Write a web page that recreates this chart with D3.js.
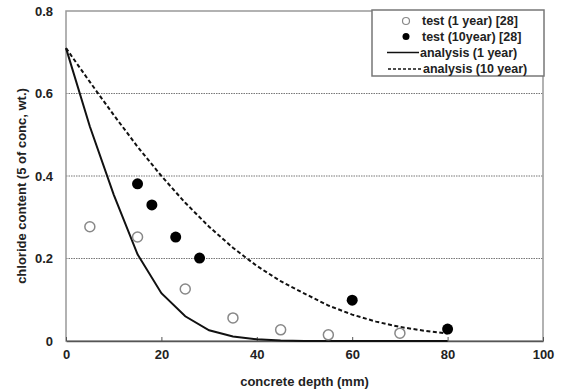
<!DOCTYPE html>
<html>
<head>
<meta charset="utf-8">
<script src="https://cdn.jsdelivr.net/npm/d3@7"></script>
<style>
  body { margin: 0; background: #fff; }
  text { font-family: "Liberation Sans", Arial, sans-serif; font-weight: bold; fill: #222; }
</style>
</head>
<body>
<svg id="chart"></svg>
<script>
// measured points (depth in mm, chloride %)
const test1Depth = [5, 15, 25, 35, 45, 55, 70];
const test1Value = [0.277, 0.252, 0.126, 0.056, 0.027, 0.015, 0.019];
const test10Depth = [15, 18, 23, 28, 60, 80];
const test10Value = [0.381, 0.330, 0.252, 0.201, 0.099, 0.029];

// analysis curves, read every 5 mm
const anaDepth = [0, 5, 10, 15, 20, 25, 30, 35, 40, 45, 50, 55, 60, 65, 70, 75, 80];
const ana1Value = [0.71, 0.52, 0.355, 0.21, 0.116, 0.06, 0.026, 0.011, 0.004, 0.001, 0, 0, 0, 0, 0, 0, 0];
const ana10Value = [0.71, 0.628, 0.548, 0.471, 0.4, 0.335, 0.277, 0.226, 0.182, 0.145, 0.115, 0.086, 0.064, 0.047, 0.034, 0.025, 0.018];

const xTicks = [0, 20, 40, 60, 80, 100];
const yTicks = [0, 0.2, 0.4, 0.6, 0.8];
const yGrid = [0.2, 0.4, 0.6];

const legendLabels = ['test (1 year) [28]', 'test (10year) [28]', 'analysis (1 year)', 'analysis (10 year)'];

const config = {
  containerWidth: 564,
  containerHeight: 392,
  margin: { top: 11, right: 21, bottom: 51, left: 66 }
};

const width = config.containerWidth - config.margin.left - config.margin.right;
const height = config.containerHeight - config.margin.top - config.margin.bottom;

const svg = d3.select('#chart')
    .attr('width', config.containerWidth)
    .attr('height', config.containerHeight);

const chart = svg.append('g')
    .attr('transform', `translate(${config.margin.left},${config.margin.top})`);

const xScale = d3.scaleLinear().domain([0, 100]).range([0, width]);
const yScale = d3.scaleLinear().domain([0, 0.8]).range([height, 0]);

// dotted grid lines
chart.selectAll('.grid')
  .data(yGrid)
  .join('line')
    .attr('class', 'grid')
    .attr('x1', 0)
    .attr('x2', width)
    .attr('y1', d => yScale(d))
    .attr('y2', d => yScale(d))
    .attr('stroke', '#777')
    .attr('stroke-width', 1)
    .attr('stroke-dasharray', '1.5,1');

// frame
chart.append('rect')
    .attr('width', width)
    .attr('height', height)
    .attr('fill', 'none')
    .attr('stroke', '#999')
    .attr('stroke-width', 1.5);

// x axis with small inward ticks
const xAxis = d3.axisBottom(xScale)
    .tickValues(xTicks)
    .tickSizeInner(-4)
    .tickSizeOuter(0)
    .tickPadding(9);

const xAxisG = chart.append('g')
    .attr('transform', `translate(0,${height})`)
    .call(xAxis);
xAxisG.select('.domain').attr('stroke', '#555').attr('stroke-width', 1.5);
xAxisG.selectAll('.tick line').attr('stroke', '#555');
xAxisG.selectAll('.tick text')
    .style('font-size', '13px')
    .attr('fill', '#222');

const yAxis = d3.axisLeft(yScale)
    .tickValues(yTicks)
    .tickFormat(d => d === 0 ? '0' : d3.format('.1f')(d))
    .tickSize(0)
    .tickPadding(13);

const yAxisG = chart.append('g').call(yAxis);
yAxisG.select('.domain').remove();
yAxisG.selectAll('.tick text')
    .style('font-size', '13px')
    .attr('fill', '#222');

// axis titles
chart.append('text')
    .attr('x', width / 2)
    .attr('y', height + 45)
    .attr('text-anchor', 'middle')
    .style('font-size', '13px')
    .text('concrete depth (mm)');

chart.append('text')
    .attr('transform', 'rotate(-90)')
    .attr('x', -175)
    .attr('y', -40)
    .attr('text-anchor', 'middle')
    .style('font-size', '13px')
    .text('chloride content (5 of conc, wt.)');

// analysis curves
const line = (vals) => d3.line()
    .x((d, i) => xScale(anaDepth[i]))
    .y(d => yScale(d))(vals);

chart.append('path')
    .attr('d', line(ana1Value))
    .attr('fill', 'none')
    .attr('stroke', '#111')
    .attr('stroke-width', 2);

chart.append('path')
    .attr('d', line(ana10Value))
    .attr('fill', 'none')
    .attr('stroke', '#111')
    .attr('stroke-width', 2)
    .attr('stroke-dasharray', '4,2.5');

// test points
chart.selectAll('.t1')
  .data(test1Value)
  .join('circle')
    .attr('class', 't1')
    .attr('cx', (d, i) => xScale(test1Depth[i]))
    .attr('cy', d => yScale(d))
    .attr('r', 5)
    .attr('fill', '#fff')
    .attr('stroke', '#888')
    .attr('stroke-width', 1.5);

chart.selectAll('.t10')
  .data(test10Value)
  .join('circle')
    .attr('class', 't10')
    .attr('cx', (d, i) => xScale(test10Depth[i]))
    .attr('cy', d => yScale(d))
    .attr('r', 5.5)
    .attr('fill', '#000');

// legend
const legend = svg.append('g').attr('transform', 'translate(372,10)');
legend.append('rect')
    .attr('width', 172)
    .attr('height', 66)
    .attr('fill', '#fff')
    .attr('stroke', '#777')
    .attr('stroke-width', 1.5);

const rowY = [11, 26.5, 42.5, 59];
const textX = [50, 50, 48, 51];
const legendRow = legend.selectAll('.row')
  .data(legendLabels)
  .join('g')
    .attr('class', 'row')
    .attr('transform', (d, i) => `translate(0,${rowY[i]})`);

legendRow.append('text')
    .attr('x', (d, i) => textX[i])
    .attr('dy', '0.35em')
    .style('font-size', '12.5px')
    .text(d => d);

legendRow.filter((d, i) => i === 0).append('circle')
    .attr('cx', 34).attr('r', 3.5)
    .attr('fill', '#fff').attr('stroke', '#888').attr('stroke-width', 1.2);
legendRow.filter((d, i) => i === 1).append('circle')
    .attr('cx', 34).attr('r', 3.5)
    .attr('fill', '#000');
legendRow.filter((d, i) => i === 2).append('line')
    .attr('x1', 15).attr('x2', 47)
    .attr('stroke', '#111').attr('stroke-width', 1.5);
legendRow.filter((d, i) => i === 3).append('line')
    .attr('x1', 16).attr('x2', 50)
    .attr('stroke', '#111').attr('stroke-width', 1.5)
    .attr('stroke-dasharray', '3,2');
</script>
</body>
</html>
